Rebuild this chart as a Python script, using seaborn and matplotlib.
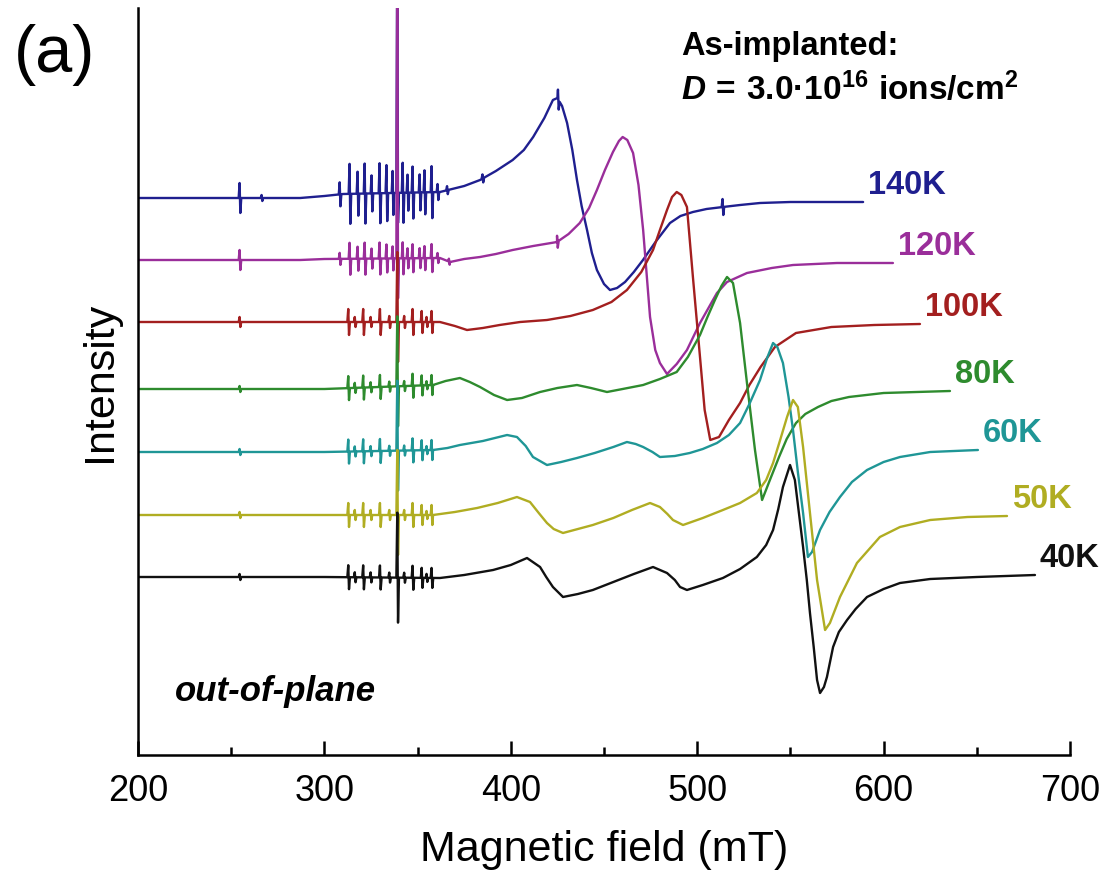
import numpy as np
import pandas as pd
import matplotlib
matplotlib.use("Agg")
import matplotlib.pyplot as plt
import seaborn as sns
from matplotlib.ticker import MultipleLocator, NullLocator

# ---------------- data (field in mT, signal in a.u. relative to each baseline) ----------------
temps = ["140K", "120K", "100K", "80K", "60K", "50K", "40K"]
colors = ["#1f1f8f", "#9a2e9a", "#a31f1f", "#2e8b2e", "#1f9696", "#b0ad22", "#111111"]
offsets = [557, 495, 433, 366, 303, 240, 178]

field_140 = [200, 250, 287, 300, 310, 362, 375, 383.5, 392, 401, 407, 412, 418, 422.6, 425, 427.5,
             430.2, 433, 435.5, 438, 440.9, 443.5, 446.2, 450, 453.2, 457, 461.3, 466, 470.9, 478,
             485.4, 491, 497.7, 505, 513.8, 523, 533.7, 550, 570, 589]
int_140 = [0, 0, 0, 2, 4, 6, 12, 18, 27, 38, 48, 61, 80, 98, 100, 92,
           75, 48, 18, -8, -32, -55, -72, -86, -92, -90, -84, -74, -62, -43,
           -25, -18, -14, -11, -9, -7, -5, -4, -4, -4]

field_120 = [200, 287, 300, 362, 367.4, 375, 383.5, 392, 401, 412, 424.8, 431, 437, 442, 446.2,
             450.5, 454.8, 458, 460, 462.5, 465.6, 468.5, 471, 474.7, 477.5, 480, 483.8, 489,
             494.5, 501.5, 510.6, 516, 526.7, 540, 551.4, 575, 605]
int_120 = [0, 0, 1, 2, -2, 1, 3, 6, 10, 14, 18, 26, 37, 52, 70,
           90, 108, 119, 123, 120, 107, 75, 30, -57, -90, -103, -114, -104,
           -90, -63, -33, -22, -13, -8, -5, -3, -3]

field_100 = [200, 300, 362, 370, 376.5, 385, 394, 405, 419.4, 432, 444, 454, 462.3, 470, 476.3,
             480, 483.8, 486.5, 489, 491.5, 494.5, 497.7, 501.5, 504, 507, 511.7, 517, 523, 528,
             534, 541.7, 553, 572, 595, 619.5]
int_100 = [0, 0, 0, -4, -8, -6, -3, 0, 2, 6, 12, 20, 32, 50, 72,
           92, 112, 125, 130, 127, 115, 45, -35, -88, -118, -115, -98, -81, -63,
           -45, -25, -11, -5, -3, -2]

field_80 = [200, 300, 358.3, 365, 372.7, 378, 383.5, 391, 398, 406, 415.7, 425, 435.5, 443, 451.6,
            460, 471, 480, 489, 495, 501.5, 505.5, 509.5, 513, 516, 519.2, 523, 526.7, 531, 534.8,
            539, 543.9, 548, 553, 558, 564.8, 572, 581.4, 600, 635.6]
int_80 = [0, 0, 4, 8, 11, 7, 2, -6, -11, -9, -3, 1, 4, 1, -3,
          0, 4, 10, 17, 32, 54, 72, 89, 103, 112, 106, 66, 6, -61, -111,
          -91, -68, -50, -34, -25, -18, -12, -8, -4, -2]

field_60 = [200, 300, 358.3, 366, 372.7, 385, 398, 403.3, 408, 411.9, 419.4, 427, 435.5, 445, 455,
            462.3, 467, 471, 476, 480, 488, 496, 503, 510.6, 517, 523, 528, 533.7, 537.5, 540.7,
            543, 546, 549, 551.4, 554, 556.8, 559.4, 561.6, 565.9, 571, 576.6, 583, 591.1, 600,
            608.8, 625, 650.6]
int_60 = [0, 0, 2, 4, 7, 11, 17, 15, 6, -5, -13, -10, -6, -1, 5,
          10, 8, 5, 0, -5, -4, -1, 3, 9, 17, 29, 48, 72, 94, 109,
          105, 89, 55, 22, -20, -61, -105, -100, -78, -60, -45, -30, -18, -10,
          -5, 0, 2]

field_50 = [200, 300, 358.3, 370, 381.9, 393, 403.3, 410.3, 415, 419.4, 423, 428, 436, 444, 455,
            465, 474.7, 480, 484, 487, 492.4, 503, 513.8, 523, 532, 537, 540.7, 544.5, 548.2,
            551.4, 554, 556.8, 560.5, 564.3, 568.6, 571.2, 576.6, 585.7, 598, 608.8, 625, 645, 666.2]
int_50 = [0, 0, 0, 3, 7, 12, 18, 13, 2, -8, -14, -18, -14, -10, -3,
          5, 12, 8, 1, -5, -10, -3, 5, 12, 22, 35, 52, 75, 98,
          115, 108, 68, 2, -65, -115, -108, -82, -48, -22, -12, -5, -2, -1]

field_40 = [200, 300, 362, 375, 390.5, 400, 408.7, 415.7, 419, 422.6, 428, 436, 444, 455, 466,
            476.3, 483.8, 488, 490.8, 494.5, 503, 513.8, 523, 532, 537, 540.7, 543.5, 546, 549.8,
            552.4, 554.5, 556.8, 558.8, 560.5, 562.5, 564.3, 565.9, 568, 569.6, 572.9, 576, 580.4,
            585, 591.1, 600, 608.8, 625, 650, 681.2]
int_40 = [0, 0, -1, 2, 7, 12, 19, 10, 0, -10, -20, -17, -13, -5, 3,
          10, 4, -3, -10, -13, -8, -1, 8, 20, 32, 47, 68, 90, 112,
          97, 65, 30, -3, -36, -70, -103, -116, -110, -100, -70, -55, -43,
          -32, -20, -12, -6, -2, 0, 2]

# narrow spikes (marker lines) : positions (mT) and amplitudes (a.u.)
noise_pos_high = [308.4, 313.7, 318, 321.8, 325.5, 329.8, 333.5, 336.8, 342.2, 344.8, 347.5,
                  351.3, 353.9, 357.7, 360.9]
noise_amp_140 = [12, 30, 22, 30, 18, 30, 28, 22, 30, 18, 26, 18, 22, 26, 8]
noise_amp_120 = [6, 16, 12, 16, 10, 16, 14, 12, 16, 10, 14, 10, 12, 14, 5]
noise_pos_low = [313, 316.5, 321, 325, 330, 335, 343, 347.5, 352.4, 355, 357.7]
noise_amp_100 = [13, 5, 13, 5, 13, 6, 6, 13, 11, 5, 11]
noise_amp_low = [12, 5, 12, 5, 12, 5, 5, 12, 10, 4, 10]
marker_pos = 254.7
marker_amp = [15, 10, 5, 3, 3, 3, 3]
extra_pos_140 = [266.5, 366, 385, 425.5, 513.8]
extra_amp_140 = [3, 4, 4, 10, 8]
extra_pos_120 = [367, 425]
extra_amp_120 = [3, 6]
dpph_pos = 339.3
dpph_up = [260, 300, 70, 70, 70, 65, 65]
dpph_down = [30, 40, 40, 40, 40, 40, 45]

fields = [field_140, field_120, field_100, field_80, field_60, field_50, field_40]
signals = [int_140, int_120, int_100, int_80, int_60, int_50, int_40]
spike_pos = [noise_pos_high + extra_pos_140, noise_pos_high + extra_pos_120,
             noise_pos_low, noise_pos_low, noise_pos_low, noise_pos_low, noise_pos_low]
spike_amp = [noise_amp_140 + extra_amp_140, noise_amp_120 + extra_amp_120,
             noise_amp_100, noise_amp_low, noise_amp_low, noise_amp_low, noise_amp_low]

# ---------------- style ----------------
sns.set_theme(style="ticks")
plt.rcParams["font.family"] = ["Liberation Sans", "DejaVu Sans"]
plt.rcParams["text.color"] = "black"
plt.rcParams["axes.labelcolor"] = "black"
plt.rcParams["xtick.color"] = "black"
plt.rcParams["mathtext.fontset"] = "custom"
plt.rcParams["mathtext.rm"] = "Liberation Sans:bold"
plt.rcParams["mathtext.it"] = "Liberation Sans:italic:bold"
plt.rcParams["mathtext.bf"] = "Liberation Sans:bold"

W, H = 1102, 873
fig = plt.figure(figsize=(W / 100, H / 100), dpi=100)
ax = fig.add_axes([138 / W, 1 - 755 / H, (1070 - 138) / W, (755 - 8) / H])


def build_curve(fx, fy, sp, sa, up, down, mk):
    fx = np.asarray(fx, float)
    fy = np.asarray(fy, float)
    xs, ys = list(fx), list(fy)
    allspikes = [(p, a, a) for p, a in zip(sp, sa)] + [(marker_pos, mk, mk), (dpph_pos, up, down)]
    for p, a_up, a_dn in allspikes:
        b0 = np.interp(p - 0.7, fx, fy)
        b1 = np.interp(p + 0.7, fx, fy)
        bm = np.interp(p, fx, fy)
        xs += [p - 0.7, p - 0.2, p + 0.2, p + 0.7]
        ys += [b0, bm + a_up, bm - a_dn, b1]
    order = np.argsort(xs, kind="stable")
    return np.asarray(xs)[order], np.asarray(ys)[order]


for i, t in enumerate(temps):
    x, y = build_curve(fields[i], signals[i], spike_pos[i], spike_amp[i],
                       dpph_up[i], dpph_down[i], marker_amp[i])
    df = pd.DataFrame({"field": x, "intensity": y + offsets[i]})
    sns.lineplot(data=df, x="field", y="intensity", sort=False, estimator=None,
                 color=colors[i], lw=1.7, ax=ax)
    ax.text(fields[i][-1] + 2.5, offsets[i] + signals[i][-1] + 17, t, color=colors[i],
            fontsize=23.5, fontweight="bold", ha="left", va="center", clip_on=False)

ax.set_xlim(200, 700)
ax.set_ylim(0, 747)
ax.xaxis.set_major_locator(MultipleLocator(100))
ax.xaxis.set_minor_locator(MultipleLocator(50))
ax.yaxis.set_major_locator(NullLocator())
ax.yaxis.set_minor_locator(NullLocator())
for s in ["top", "right"]:
    ax.spines[s].set_visible(False)
for s in ["left", "bottom"]:
    ax.spines[s].set_linewidth(1.8)
    ax.spines[s].set_color("black")
ax.tick_params(axis="x", which="major", direction="in", length=10, width=1.8,
               labelsize=26, pad=14, colors="black")
ax.tick_params(axis="x", which="minor", direction="in", length=6, width=1.8)
ax.set_xlabel("Magnetic field (mT)", fontsize=31, labelpad=15)
ax.set_ylabel("Intensity", fontsize=31, labelpad=13)

fig.text(14 / W, 1 - 24 / H, "(a)", fontsize=48, ha="left", va="top")
fig.text(681 / W, 1 - 55 / H, "As-implanted:", fontsize=23.5, fontweight="bold",
         ha="left", va="baseline")
fig.text(681 / W, 1 - 100 / H, r"$\mathit{D}\,\mathrm{=\,3.0·10^{16}\ ions/cm^{2}}$",
         fontsize=24, ha="left", va="baseline")
fig.text(175 / W, 1 - 701 / H, "out-of-plane", fontsize=25, fontweight="bold",
         fontstyle="italic", ha="left", va="baseline")

fig.savefig("out.png", dpi=100)
